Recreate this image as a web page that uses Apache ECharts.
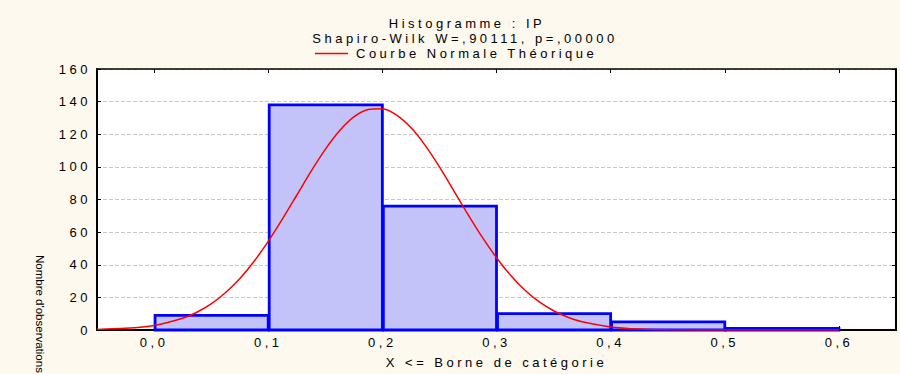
<!DOCTYPE html>
<html>
<head>
<meta charset="utf-8">
<script src="https://cdn.jsdelivr.net/npm/echarts@6/dist/echarts.min.js"></script>
<style>
html, body { margin: 0; padding: 0; background: #FDF9EF; }
#main { width: 900px; height: 374px; }
/* le texte d'origine est très espacé */
#main svg text { letter-spacing: 3.5px; }
#main svg text[style*="Narrow"] { letter-spacing: 0; }
</style>
</head>
<body>
<div id="main"></div>
<script>
// classes de l'histogramme (bornes) et effectifs
var binLow = [0.0, 0.1, 0.2, 0.3, 0.4, 0.5];
var binHigh = [0.1, 0.2, 0.3, 0.4, 0.5, 0.6];
var counts = [9, 138, 76, 10, 5, 1];

// courbe normale théorique
var curveX = [-0.05, -0.025, 0.0, 0.025, 0.0375, 0.05, 0.0625, 0.075, 0.0875, 0.1, 0.1125, 0.125, 0.1375, 0.15, 0.1625, 0.175, 0.1875, 0.2, 0.2125, 0.225, 0.2375, 0.25, 0.2625, 0.275, 0.2875, 0.3, 0.3125, 0.325, 0.3375, 0.35, 0.3625, 0.375, 0.4, 0.425, 0.45, 0.5, 0.55, 0.6];
var curveY = [0.3, 1, 2.8, 7.2, 10.9, 16, 22.8, 31.4, 42, 54.3, 68.1, 82.6, 97.2, 110.7, 122.1, 130.6, 135.2, 135.7, 131.8, 124.1, 113.2, 100, 85.5, 70.9, 56.9, 44.3, 33.4, 24.4, 17.2, 11.8, 7.8, 5, 1.9, 0.6, 0.2, 0, 0, 0];

var xTicks = [0.0, 0.1, 0.2, 0.3, 0.4, 0.5, 0.6];

var font = 'Liberation Sans, Arial, sans-serif';

var barData = binLow.map(function (lo, i) { return [lo, binHigh[i], counts[i]]; });
var curveData = curveX.map(function (x, i) { return [x, curveY[i]]; });

var myChart = echarts.init(document.getElementById('main'), null, { renderer: 'svg' });
option = {
    backgroundColor: '#FDF9EF',
    animation: false,
    title: [{
        text: 'Histogramme : IP',
        left: 462,
        top: 12,
        textAlign: 'center',
        textStyle: { fontSize: 13, fontWeight: 'normal', color: '#000', fontFamily: font }
    }, {
        text: 'Shapiro-Wilk W=,90111, p=,00000',
        left: 460,
        top: 27,
        textAlign: 'center',
        textStyle: { fontSize: 13, fontWeight: 'normal', color: '#000', fontFamily: font }
    }],
    legend: {
        left: 315,
        top: 47,
        padding: 0,
        icon: 'rect',
        itemWidth: 33,
        itemHeight: 1.5,
        itemGap: 8,
        itemStyle: { color: '#FF0000', borderWidth: 0 },
        textStyle: { fontSize: 13, color: '#000', fontFamily: font, padding: [0, 0, 0, 3] },
        data: ['Courbe Normale Théorique']
    },
    grid: {
        left: 97,
        right: 4,
        top: 69,
        bottom: 42,
        show: true,
        backgroundColor: '#fff',
        borderWidth: 0
    },
    xAxis: [{
        type: 'value',
        min: -0.05,
        max: 0.65,
        name: 'X <= Borne de catégorie',
        nameLocation: 'middle',
        nameGap: 26,
        nameTextStyle: { fontSize: 13, color: '#000', fontFamily: font },
        axisLine: { show: true, onZero: false, lineStyle: { color: '#000', width: 2 } },
        axisTick: { show: true, inside: true, length: 4, customValues: xTicks, lineStyle: { color: '#000' } },
        axisLabel: {
            customValues: xTicks,
            margin: 6,
            fontSize: 13,
            color: '#000',
            fontFamily: font,
            formatter: function (v) { return v.toFixed(1).replace('.', ','); }
        },
        splitLine: { show: false }
    }, {
        type: 'value',
        position: 'top',
        min: -0.05,
        max: 0.65,
        axisLine: { show: true, onZero: false, lineStyle: { color: '#000', width: 1.5 } },
        axisTick: { show: true, inside: true, length: 4, customValues: xTicks, lineStyle: { color: '#000' } },
        axisLabel: { show: false },
        splitLine: { show: false }
    }],
    yAxis: [{
        type: 'value',
        min: 0,
        max: 160,
        interval: 20,
        axisLine: { show: true, onZero: false, lineStyle: { color: '#000', width: 2 } },
        axisTick: { show: true, inside: true, length: 4, lineStyle: { color: '#000' } },
        axisLabel: { margin: 6, fontSize: 13, color: '#000', fontFamily: font },
        splitLine: { show: true, lineStyle: { color: '#C8C8C8', type: 'dashed', width: 1 } }
    }, {
        type: 'value',
        position: 'right',
        min: 0,
        max: 160,
        interval: 20,
        axisLine: { show: true, onZero: false, lineStyle: { color: '#000', width: 2 } },
        axisTick: { show: true, inside: true, length: 4, lineStyle: { color: '#000' } },
        axisLabel: { show: false },
        splitLine: { show: false }
    }],
    graphic: [{
        type: 'text',
        x: 46,
        y: 255,
        rotation: -Math.PI / 2,
        style: {
            text: "Nombre d'observations",
            fontSize: 11.5,
            fontFamily: 'Liberation Sans Narrow, Liberation Sans, sans-serif',
            fill: '#000'
        }
    }],
    series: [{
        name: 'Effectifs',
        type: 'custom',
        xAxisIndex: 0,
        yAxisIndex: 0,
        renderItem: function (params, api) {
            var p0 = api.coord([api.value(0), api.value(2)]);
            var p1 = api.coord([api.value(1), 0]);
            return {
                type: 'rect',
                shape: { x: p0[0] + 1, y: p0[1], width: p1[0] - p0[0] - 1, height: p1[1] - p0[1] },
                style: { fill: '#C3C3FA', stroke: '#0000FF', lineWidth: 2.8 }
            };
        },
        encode: { x: [0, 1], y: 2 },
        data: barData,
        z: 2
    }, {
        name: 'Courbe Normale Théorique',
        type: 'line',
        xAxisIndex: 0,
        yAxisIndex: 0,
        smooth: 0.3,
        symbol: 'none',
        lineStyle: { color: '#FF0000', width: 1.5 },
        itemStyle: { color: '#FF0000' },
        data: curveData,
        z: 3
    }]
};

myChart.setOption(option);
window.onresize = myChart.resize;
</script>
</body>
</html>
